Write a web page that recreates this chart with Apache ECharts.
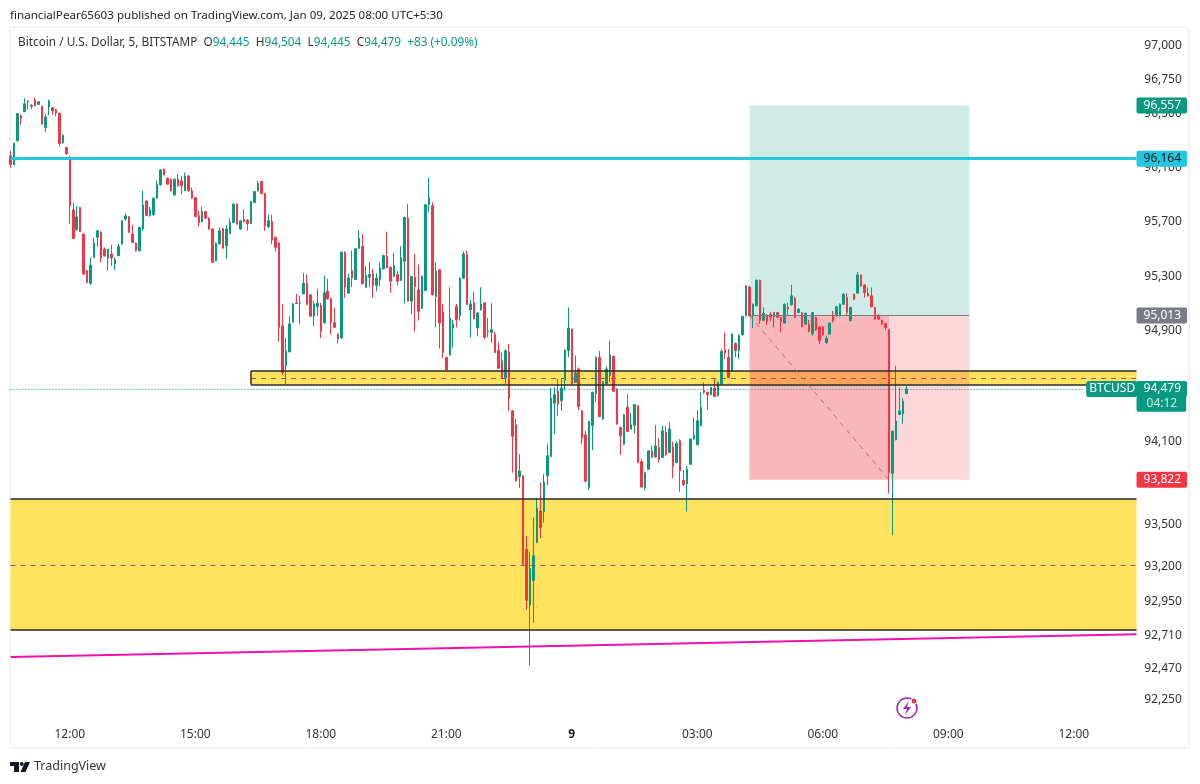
<!DOCTYPE html>
<html>
<head>
<meta charset="utf-8">
<title>BTCUSD 5m</title>
<style>
  html, body { margin: 0; padding: 0; background: #fff; }
  #main { width: 1200px; height: 784px; }
</style>
</head>
<body>
<div id="main"></div>
<script src="https://cdn.jsdelivr.net/npm/echarts@6/dist/echarts.min.js"></script>
<script>
// five minute candles
const opens = [
  96185, 96119, 96296, 96480, 96512, 96591, 96552, 96598, 96566, 96552,
  96394, 96547, 96542, 96525, 96500, 96281, 96247, 96178, 95787, 95643,
  95804, 95609, 95341, 95248, 95438, 95585, 95624, 95499, 95433, 95463,
  95389, 95450, 95536, 95719, 95736, 95609, 95543, 95487, 95646, 95853,
  95743, 95751, 95873, 95971, 96087, 96020, 96013, 95897, 96013, 96001,
  95927, 96037, 95927, 95878, 95743, 95699, 95775, 95726, 95646, 95414,
  95536, 95650, 95524, 95614, 95694, 95829, 95646, 95719, 95711, 95687,
  95841, 95927, 95996, 95907, 95663, 95702, 95585, 95544, 94939, 94647,
  94749, 94964, 95105, 95103, 95171, 95249, 95164, 95008, 95078, 95086,
  94959, 95191, 95137, 94961, 94878, 94849, 95476, 95176, 95342, 95276,
  95505, 95518, 95220, 95293, 95318, 95232, 95276, 95354, 95444, 95366,
  95298, 95313, 95269, 95410, 95727, 95118, 95293, 95200, 95066, 95196,
  95825, 95818, 95152, 95347, 95039, 94708, 94725, 94922, 95081, 95013,
  95286, 95459, 95056, 95105, 94922, 95054, 95105, 94900, 94891, 94874,
  94761, 94683, 94561, 94744, 94321, 94220, 93845, 93850, 93323, 92924,
  93101, 93371, 93598, 93594, 93852, 93990, 94375, 94462, 94394, 94544,
  94757, 94914, 94527, 94624, 94321, 94147, 93765, 94213, 94442, 94709,
  94261, 94515, 94576, 94716, 94479, 94200, 94079, 94346, 94188, 94217,
  94358, 93954, 93765, 93898, 94031, 93987, 94055, 93983, 94164, 94019,
  94060, 93946, 94104, 93818, 93794, 93934, 94116, 94075, 94213, 94467,
  94455, 94438, 94486, 94430, 94515, 94762, 94709, 94607, 94810, 94757,
  94873, 95011, 95222, 95011, 95084, 95271, 94979, 95016, 95023, 95004,
  95035, 95000, 94958, 95072, 95091, 95137, 95035, 95035, 94950, 94950,
  94882, 95000, 94931, 94931, 94817, 94877, 95011, 95011, 95011, 95096,
  95145, 94975, 95169, 95176, 95308, 95237, 95176, 95157, 95072, 95016,
  94979, 94955, 94909, 93869, 94112, 94294, 94299, 94445
];
const closes = [
  96123, 96279, 96498, 96463, 96571, 96586, 96561, 96554, 96586, 96419,
  96473, 96591, 96517, 96502, 96276, 96338, 96202, 95816, 95577, 95736,
  95629, 95316, 95255, 95382, 95543, 95633, 95433, 95450, 95499, 95433,
  95424, 95519, 95707, 95743, 95621, 95548, 95487, 95658, 95824, 95746,
  95792, 95873, 95976, 96082, 96045, 95976, 95927, 96013, 95964, 95964,
  96037, 95927, 95873, 95738, 95694, 95775, 95726, 95646, 95402, 95543,
  95633, 95506, 95646, 95694, 95829, 95682, 95707, 95702, 95687, 95848,
  95922, 95981, 95907, 95670, 95707, 95565, 95511, 94927, 94598, 94752,
  94952, 95098, 95100, 95105, 95249, 95093, 95008, 95098, 95103, 94898,
  95179, 95135, 94964, 94927, 94842, 95476, 95220, 95288, 95288, 95501,
  95579, 95244, 95305, 95313, 95232, 95288, 95361, 95452, 95361, 95264,
  95379, 95264, 95435, 95732, 95118, 95298, 95225, 95044, 95300, 95825,
  95879, 95166, 95337, 94959, 94744, 94617, 94993, 94952, 94983, 95286,
  95464, 95093, 95098, 94988, 95032, 95098, 94854, 94895, 94910, 94744,
  94629, 94561, 94756, 94410, 94135, 93813, 93886, 93216, 92958, 93185,
  93276, 93617, 93479, 93806, 93995, 94413, 94438, 94370, 94486, 94762,
  94922, 94515, 94595, 94350, 94123, 93813, 94244, 94455, 94709, 94278,
  94532, 94624, 94726, 94462, 94225, 94140, 94292, 94171, 94220, 94365,
  93946, 93770, 93874, 94031, 93983, 94067, 93971, 94176, 94002, 94188,
  93922, 94084, 93886, 93789, 93898, 94116, 94145, 94249, 94346, 94455,
  94438, 94491, 94423, 94527, 94752, 94740, 94563, 94878, 94757, 94866,
  95006, 95230, 95011, 95096, 95271, 94979, 95030, 94970, 95000, 95035,
  95000, 94970, 95096, 95060, 95157, 95000, 95060, 94933, 95030, 94897,
  95035, 94907, 94829, 94873, 94846, 94958, 94975, 95077, 95096, 95169,
  95035, 95072, 95133, 95310, 95230, 95181, 95157, 95077, 94987, 94987,
  94950, 94926, 93876, 94173, 94246, 94319, 94391, 94479
];
const lows = [
  96099, 96119, 96296, 96414, 96512, 96527, 96530, 96554, 96561, 96419,
  96362, 96485, 96488, 96480, 96254, 96276, 96192, 95682, 95577, 95633,
  95625, 95311, 95250, 95238, 95438, 95516, 95402, 95443, 95341, 95377,
  95345, 95450, 95531, 95707, 95621, 95543, 95482, 95482, 95633, 95741,
  95738, 95746, 95873, 95966, 96040, 95971, 95922, 95890, 95959, 95902,
  95927, 95922, 95868, 95733, 95663, 95694, 95721, 95641, 95397, 95409,
  95536, 95501, 95426, 95609, 95689, 95677, 95641, 95694, 95633, 95682,
  95836, 95922, 95902, 95633, 95653, 95536, 95482, 94825, 94581, 94512,
  94744, 94964, 95098, 94952, 95171, 95093, 95003, 94934, 95008, 94849,
  94959, 95130, 94874, 94922, 94810, 94844, 95142, 95176, 95220, 95276,
  95500, 95244, 95215, 95220, 95142, 95191, 95227, 95349, 95361, 95179,
  95298, 95232, 95269, 95103, 95118, 95025, 94898, 94976, 95061, 95191,
  95769, 95159, 94927, 94773, 94703, 94612, 94720, 94781, 94927, 94976,
  95281, 95093, 94854, 94988, 94861, 95049, 94842, 94854, 94813, 94739,
  94629, 94561, 94512, 94317, 93874, 93813, 93765, 93211, 92893, 92494,
  92798, 93371, 93402, 93515, 93782, 93990, 94152, 94285, 94321, 94467,
  94709, 94510, 94522, 94326, 94079, 93801, 93748, 94036, 94382, 94278,
  94256, 94510, 94527, 94457, 94220, 94002, 94074, 94171, 94188, 94157,
  93941, 93770, 93745, 93898, 93983, 93982, 93946, 93978, 93997, 94014,
  93833, 93941, 93736, 93777, 93594, 93929, 94111, 94075, 94208, 94442,
  94326, 94433, 94423, 94425, 94510, 94696, 94558, 94602, 94709, 94697,
  94868, 95006, 95006, 94921, 95079, 94950, 94975, 94945, 94970, 94926,
  94994, 94890, 94953, 95011, 95086, 94995, 95030, 94928, 94945, 94892,
  94865, 94902, 94805, 94868, 94805, 94877, 94962, 95006, 95006, 95091,
  95011, 94970, 95125, 95171, 95225, 95145, 95152, 95072, 94982, 94982,
  94945, 94907, 93723, 93424, 94107, 94290, 94226, 94445
];
const highs = [
  96222, 96279, 96498, 96493, 96611, 96596, 96566, 96616, 96591, 96557,
  96493, 96601, 96547, 96532, 96505, 96343, 96252, 96185, 95841, 95816,
  95809, 95614, 95346, 95438, 95580, 95641, 95629, 95511, 95499, 95531,
  95438, 95536, 95712, 95760, 95743, 95677, 95548, 95663, 95927, 95858,
  95809, 95878, 96001, 96087, 96092, 96025, 96018, 96018, 96050, 96037,
  96062, 96042, 95951, 95883, 95780, 95809, 95780, 95731, 95651, 95548,
  95658, 95655, 95677, 95724, 95834, 95834, 95712, 95792, 95719, 95853,
  95927, 96001, 96001, 95912, 95751, 95751, 95590, 95549, 95098, 94849,
  95008, 95105, 95171, 95159, 95325, 95310, 95169, 95118, 95208, 95105,
  95305, 95281, 95142, 95069, 94883, 95481, 95481, 95318, 95488, 95508,
  95640, 95610, 95374, 95403, 95354, 95322, 95403, 95457, 95627, 95371,
  95471, 95335, 95520, 95737, 95830, 95303, 95464, 95384, 95305, 95830,
  96025, 95842, 95403, 95352, 95098, 94713, 95220, 94981, 95098, 95291,
  95481, 95488, 95127, 95188, 95037, 95220, 95110, 94995, 95103, 94895,
  94817, 94744, 94769, 94805, 94326, 94261, 94007, 93855, 93419, 93307,
  93550, 93692, 93801, 93862, 94084, 94486, 94491, 94551, 94551, 94767,
  95072, 94919, 94721, 94636, 94326, 94176, 94249, 94460, 94714, 94757,
  94537, 94641, 94830, 94721, 94484, 94205, 94297, 94442, 94304, 94370,
  94363, 93971, 93879, 94036, 94067, 94217, 94123, 94213, 94213, 94237,
  94099, 94099, 94116, 93891, 93922, 94121, 94273, 94326, 94455, 94527,
  94460, 94496, 94551, 94532, 94769, 94890, 94769, 94883, 94817, 94878,
  95011, 95235, 95227, 95101, 95276, 95276, 95072, 95023, 95040, 95040,
  95040, 95005, 95101, 95108, 95237, 95150, 95065, 95040, 95035, 94979,
  95040, 95005, 94936, 94936, 94865, 94962, 95047, 95084, 95101, 95176,
  95176, 95077, 95174, 95332, 95313, 95242, 95218, 95218, 95077, 95021,
  94984, 94960, 94914, 94178, 94647, 94489, 94411, 94504
];

// axis labels
const priceTicks = [97000, 96750, 96500, 96100, 95700, 95300, 94900, 94100, 93500, 93200, 92950, 92710, 92470, 92250];
const timeTicks = ['8 12:00', '8 15:00', '8 18:00', '8 21:00', '9 00:00', '9 03:00', '9 06:00', '9 09:00', '9 12:00'];

// drawn levels
const targetPrice = 96557, entryPrice = 95013, stopPrice = 93822, lastPrice = 94479, countdownPrice = 94371;
const cyanLevel = 96164;
const upperZone = [94610, 94560, 94509];   // top, mid, bottom
const lowerZone = [93684, 93211, 92745];
const trendLine = [92555, 92716];

// one slot per 5 minutes, from 10:35 on the 8th, with room on the right
const categories = [];
for (let i = 0; i < 324; i++) {
  const m = 10 * 60 + 35 + i * 5;
  const d = m >= 1440 ? 9 : 8;
  const hh = String(Math.floor(m / 60) % 24).padStart(2, '0');
  const mm = String(m % 60).padStart(2, '0');
  categories.push(d + ' ' + hh + ':' + mm);
}
const firstCat = categories[0], lastCat = categories[323], beforeLast = categories[322];
const zoneStart = '8 16:20', posStart = '9 04:15', posFill = '9 07:35', posEnd = '9 09:30', tagCat = '9 12:15';

const UP = '#089981', DOWN = '#f23645', FONT = '"Noto Sans", sans-serif';
const candles = opens.map((o, i) => [o, closes[i], lows[i], highs[i]]);

function fmt(v) {
  return Math.round(v).toLocaleString('en-US');
}

// horizontal line helper for markLine
function hline(from, to, price, lineStyle, label) {
  return [
    { coord: [from, price], lineStyle: lineStyle, label: label || { show: false } },
    { coord: [to, price] }
  ];
}
// coloured tag sitting on the price axis
function tag(text, bg, color, pad, gap) {
  return {
    show: true, position: 'end', distance: gap || 0, formatter: text,
    backgroundColor: bg, color: color || '#fff', fontFamily: FONT, fontSize: 12,
    padding: pad || [0, 6, 0, 7], lineHeight: 16, align: 'left', borderRadius: 2
  };
}
const noLine = { color: 'rgba(0,0,0,0)', width: 1, type: 'solid' };
const blackLine = { color: '#2a2a2a', width: 1.5, type: 'solid' };
const midLine = { color: '#a8486a', width: 1, type: [5, 5] };

const option = {
  animation: false,
  backgroundColor: '#fff',
  title: [
    {
      left: 10, top: 10, padding: 0,
      text: 'financialPear65603 published on TradingView.com, Jan 09, 2025 08:00 UTC+5:30',
      textStyle: { fontFamily: FONT, fontSize: 11.6, fontWeight: 'normal', color: '#222' }
    },
    {
      left: 18, top: 37, padding: 0,
      text: '{n|Bitcoin / U.S. Dollar, 5, BITSTAMP}  {n|O}{v|94,445}  {n|H}{v|94,504}  {n|L}{v|94,445}  {n|C}{v|94,479}  {v|+83 (+0.09%)}',
      textStyle: {
        fontFamily: FONT, fontSize: 11.8, fontWeight: 'normal',
        rich: {
          n: { fontFamily: FONT, fontSize: 11.8, color: '#333' },
          v: { fontFamily: FONT, fontSize: 11.8, color: UP }
        }
      }
    }
  ],
  grid: { left: 8.77, top: 28, width: 1129.5, height: 691 },
  xAxis: {
    type: 'category',
    data: categories,
    axisLine: { show: false },
    axisTick: { show: false },
    splitLine: { show: false },
    axisLabel: {
      margin: 10,
      color: '#333', fontFamily: FONT, fontSize: 12,
      interval: (i, v) => timeTicks.includes(v),
      formatter: v => v === '9 00:00' ? '{b|9}' : v.split(' ')[1],
      rich: { b: { fontWeight: 'bold', fontFamily: FONT, fontSize: 12, color: '#222' } }
    }
  },
  yAxis: {
    type: 'log',
    logBase: 10,
    min: 92115,
    max: 97134,
    position: 'right',
    axisLine: { show: false },
    axisTick: { show: false },
    splitLine: { show: false },
    axisLabel: {
      customValues: priceTicks,
      margin: 6,
      color: '#333', fontFamily: FONT, fontSize: 12,
      formatter: v => fmt(v)
    }
  },
  series: [
    {
      // zones and the position boxes, behind the candles
      type: 'line', data: [], silent: true, z: 1, symbol: 'none',
      markArea: {
        silent: true,
        z: 1,
        data: [
          [{ coord: [firstCat, lowerZone[0]], itemStyle: { color: '#ffe35f' } }, { coord: [lastCat, lowerZone[2]] }],
          [{ coord: [zoneStart, upperZone[0]], itemStyle: { color: '#ffe35f' } }, { coord: [lastCat, upperZone[2]] }],
          [{ coord: [posStart, targetPrice], itemStyle: { color: 'rgba(8,153,129,0.2)' } }, { coord: [posEnd, entryPrice] }],
          [{ coord: [posStart, entryPrice], itemStyle: { color: 'rgba(242,54,69,0.2)' } }, { coord: [posEnd, stopPrice] }],
          [{ coord: [posStart, entryPrice], itemStyle: { color: 'rgba(242,54,69,0.2)' } }, { coord: [posFill, stopPrice] }]
        ]
      }
    },
    {
      type: 'candlestick',
      z: 3,
      data: candles,
      barWidth: 2,
      itemStyle: { color: UP, color0: DOWN, borderColor: UP, borderColor0: DOWN, borderWidth: 1 },
      silent: true
    },
    {
      // lines and price tags
      type: 'line', data: [], silent: true, z: 5, symbol: 'none',
      markLine: {
        silent: true,
        symbol: 'none',
        z: 5,
        data: [
          hline(firstCat, lastCat, lowerZone[0], blackLine),
          hline(firstCat, lastCat, lowerZone[1], midLine),
          hline(firstCat, lastCat, lowerZone[2], blackLine),
          hline(zoneStart, lastCat, upperZone[0], blackLine),
          hline(zoneStart, lastCat, upperZone[1], midLine),
          hline(zoneStart, lastCat, upperZone[2], blackLine),
          [
            { coord: [zoneStart, upperZone[0]], lineStyle: blackLine, label: { show: false } },
            { coord: [zoneStart, upperZone[2]] }
          ],
          [
            { coord: [firstCat, trendLine[0]], lineStyle: { color: '#f010ae', width: 2, type: 'solid' }, label: { show: false } },
            { coord: [lastCat, trendLine[1]] }
          ],
          hline(firstCat, lastCat, cyanLevel, { color: '#22c8e0', width: 3, type: 'solid' }, tag(fmt(cyanLevel), '#22c8e0', '#131722')),
          hline(firstCat, tagCat, lastPrice, { color: UP, width: 1, type: [1, 2] }, tag('BTCUSD', UP, '#fff', [0, 2, 0, 3], 2)),
          hline(posStart, posEnd, entryPrice, { color: '#787b86', width: 1, type: 'solid' }),
          [
            { coord: [posStart, entryPrice], lineStyle: { color: '#8a7f85', width: 1, type: [5, 5] }, label: { show: false } },
            { coord: [posFill, stopPrice] }
          ],
          hline(beforeLast, lastCat, targetPrice, noLine, tag(fmt(targetPrice), UP)),
          hline(beforeLast, lastCat, entryPrice, noLine, tag(fmt(entryPrice), '#787b86')),
          hline(beforeLast, lastCat, stopPrice, noLine, tag(fmt(stopPrice), DOWN)),
          hline(beforeLast, lastCat, countdownPrice, noLine, tag('04:12', UP, '#c9ece5', [0, 9, 0, 10])),
          hline(beforeLast, lastCat, lastPrice, noLine, tag(fmt(lastPrice), UP))
        ]
      }
    }
  ],
  graphic: [
    // chart frame
    { type: 'rect', shape: { x: 10, y: 27, width: 1179, height: 721, r: 2 }, style: { fill: 'none', stroke: '#e6e6e6', lineWidth: 1 }, silent: true, z: 0 },
    // bolt badge
    { type: 'circle', shape: { cx: 907, cy: 708, r: 10 }, style: { fill: '#fff', stroke: '#9c27b0', lineWidth: 1.5 }, silent: true },
    { type: 'polygon', shape: { points: [[909, 701], [903, 709], [907, 709], [905, 715], [911, 707], [907, 707]] }, style: { fill: '#9c27b0' }, silent: true },
    { type: 'circle', shape: { cx: 914, cy: 701, r: 3 }, style: { fill: DOWN, stroke: '#fff', lineWidth: 1 }, silent: true },
    // TradingView mark
    { type: 'polygon', shape: { points: [[10, 762], [19, 762], [19, 772], [14, 772], [14, 766], [10, 766]] }, style: { fill: '#131722' }, silent: true },
    { type: 'circle', shape: { cx: 21.8, cy: 764, r: 1.9 }, style: { fill: '#131722' }, silent: true },
    { type: 'polygon', shape: { points: [[25, 762], [30, 762], [25.5, 772], [20.5, 772]] }, style: { fill: '#131722' }, silent: true },
    { type: 'text', left: 34, top: 760, style: { text: 'TradingView', font: '12.5px ' + FONT, fill: '#333' }, silent: true }
  ]
};

const chart = echarts.init(document.getElementById('main'), null, { renderer: 'canvas' });
chart.setOption(option);
</script>
</body>
</html>
